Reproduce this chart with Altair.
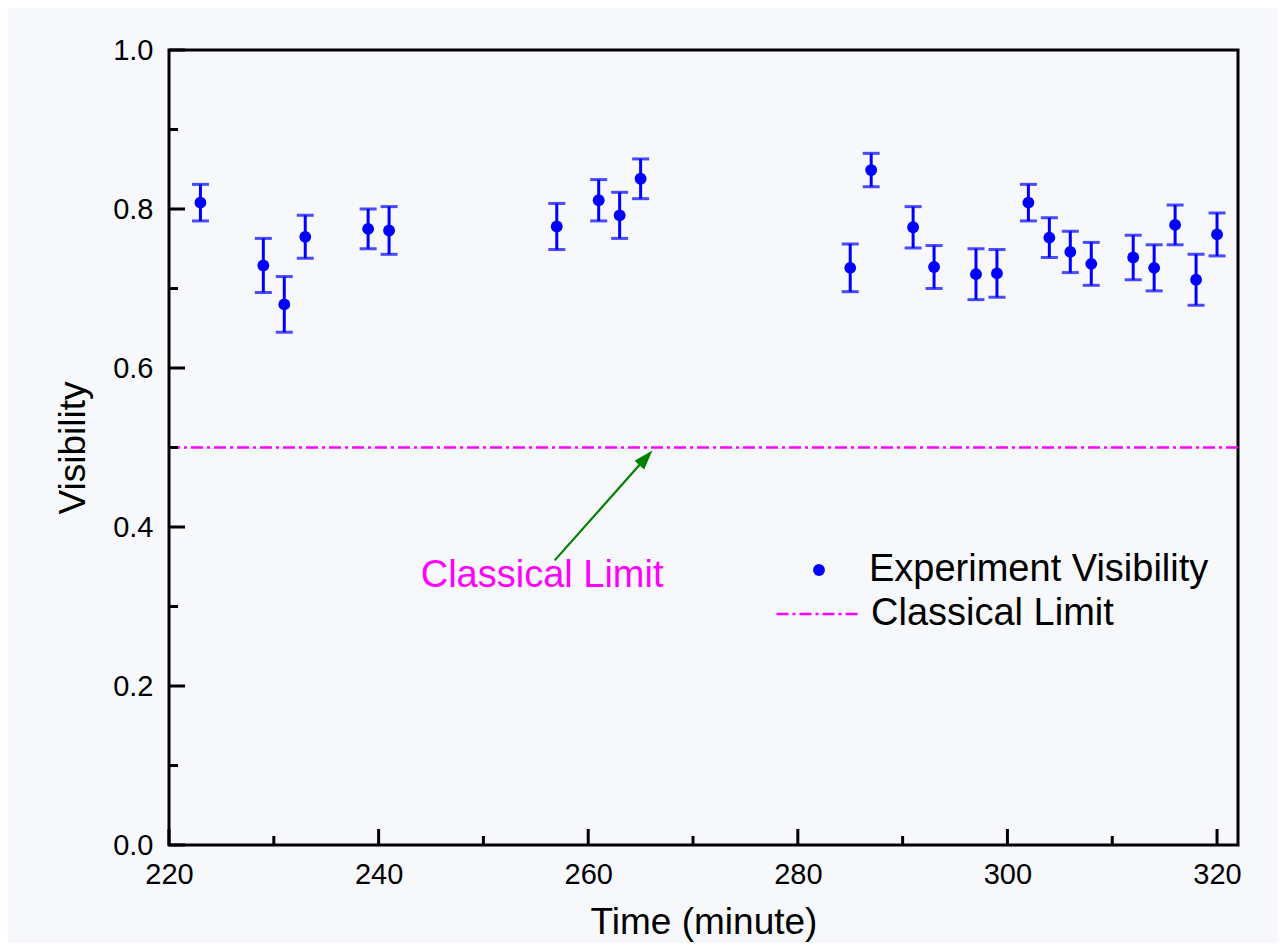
import altair as alt
import pandas as pd

# ---- data ----
time_min = [223, 229, 231, 233, 239, 241, 257, 261, 263, 265, 285, 287, 291,
            293, 297, 299, 302, 304, 306, 308, 312, 314, 316, 318, 320]
visibility = [0.808, 0.729, 0.680, 0.765, 0.775, 0.773, 0.778, 0.811, 0.792,
              0.838, 0.726, 0.849, 0.777, 0.727, 0.718, 0.719, 0.808, 0.764,
              0.746, 0.731, 0.739, 0.726, 0.780, 0.711, 0.768]
error = [0.023, 0.034, 0.035, 0.027, 0.025, 0.030, 0.029, 0.026, 0.029, 0.025,
         0.030, 0.021, 0.026, 0.027, 0.032, 0.030, 0.023, 0.025, 0.026, 0.027,
         0.028, 0.029, 0.025, 0.032, 0.027]
series_name = ["Experiment Visibility"]
limit_name = ["Classical Limit"]
limit_value = [0.5]

x_major = [220, 240, 260, 280, 300, 320]
x_minor = [230, 250, 270, 290, 310]
y_major = [0.0, 0.2, 0.4, 0.6, 0.8, 1.0]
y_minor = [0.1, 0.3, 0.5, 0.7, 0.9]

note_text = ["Classical Limit"]
note_x = [255.6]
note_y = [0.325]
arrow_x = [256.8, 265.5]
arrow_y = [0.358, 0.487]
head_x = [265.5]
head_y = [0.487]

FONT = "Liberation Sans"
BLUE = "#0000ff"
MAGENTA = "#ff00ff"
GREEN = "#008000"
W, H = 1069, 795

df = pd.DataFrame({"t": time_min, "v": visibility, "e": error})
df["lo"] = df["v"] - df["e"]
df["hi"] = df["v"] + df["e"]
df["series"] = series_name[0]

xs = alt.Scale(domain=[220, 322], nice=False, zero=False)
ys = alt.Scale(domain=[0, 1], nice=False, zero=False)
xaxis = alt.Axis(values=x_major, format="d", ticks=False, domain=False, grid=False,
                 labelFlush=False, labelPadding=15, title="Time (minute)",
                 titlePadding=15)
yaxis = alt.Axis(values=y_major, format=".1f", ticks=False, domain=False, grid=False,
                 labelFlush=False, labelPadding=16, title="Visibility",
                 titlePadding=20)


def X(field):
    return alt.X(field, type="quantitative", scale=xs, axis=xaxis)


def Y(field):
    return alt.Y(field, type="quantitative", scale=ys, axis=yaxis)


bars = alt.Chart(df).mark_rule(color=BLUE, strokeWidth=3).encode(
    x=X("t"), y=Y("lo"), y2="hi")
caps_hi = alt.Chart(df).mark_tick(color=BLUE, orient="horizontal", size=17,
                                   thickness=3).encode(x=X("t"), y=Y("hi"))
caps_lo = alt.Chart(df).mark_tick(color=BLUE, orient="horizontal", size=17,
                                   thickness=3).encode(x=X("t"), y=Y("lo"))
points = alt.Chart(df).mark_circle(size=140, opacity=1).encode(
    x=X("t"), y=Y("v"),
    color=alt.Color("series:N",
                    scale=alt.Scale(domain=series_name, range=[BLUE]),
                    legend=alt.Legend(title=None, orient="none", legendX=631,
                                      legendY=501, padding=0, symbolType="circle",
                                      symbolSize=140, labelOffset=31,
                                      labelFont=FONT, labelFontSize=38,
                                      labelColor="black", labelLimit=600)))

limit_df = pd.DataFrame({"v": limit_value, "name": limit_name})
limit = alt.Chart(limit_df).mark_rule(color=MAGENTA, strokeWidth=2.5).encode(
    y=Y("v"),
    strokeDash=alt.StrokeDash("name:N",
                              scale=alt.Scale(domain=limit_name, range=[[12, 4, 3, 4]]),
                              legend=alt.Legend(title=None, orient="none", legendX=606,
                                                legendY=521, padding=0,
                                                symbolType="stroke", symbolSize=6889,
                                                symbolStrokeColor=MAGENTA,
                                                symbolStrokeWidth=2.5,
                                                labelOffset=10, labelFont=FONT,
                                                labelFontSize=38, labelColor="black",
                                                labelLimit=600)))

# inward ticks
ym = alt.Chart(pd.DataFrame({"v": y_major})).mark_rule(color="black", strokeWidth=3).encode(
    y=Y("v"), x=alt.value(0), x2=alt.value(16))
yn = alt.Chart(pd.DataFrame({"v": y_minor})).mark_rule(color="black", strokeWidth=3).encode(
    y=Y("v"), x=alt.value(0), x2=alt.value(9))
xm = alt.Chart(pd.DataFrame({"t": x_major})).mark_rule(color="black", strokeWidth=3).encode(
    x=X("t"), y=alt.value(H), y2=alt.value(H - 16))
xn = alt.Chart(pd.DataFrame({"t": x_minor})).mark_rule(color="black", strokeWidth=3).encode(
    x=X("t"), y=alt.value(H), y2=alt.value(H - 9))

# annotation
note = alt.Chart(pd.DataFrame({"t": note_x, "v": note_y, "s": note_text})).mark_text(
    color=MAGENTA, font=FONT, fontSize=38, align="center", baseline="alphabetic").encode(
    x=X("t"), y=Y("v"), text="s:N")
arrow = alt.Chart(pd.DataFrame({"t": arrow_x, "v": arrow_y})).mark_line(
    color=GREEN, strokeWidth=2.2).encode(x=X("t"), y=Y("v"))
head = alt.Chart(pd.DataFrame({"t": head_x, "v": head_y})).mark_point(
    shape="M0,-1L0.66,1L-0.66,1Z", size=380, angle=42, filled=True, color=GREEN,
    opacity=1).encode(x=X("t"), y=Y("v"))

chart = alt.layer(limit, arrow, head, note, bars, caps_hi, caps_lo, points,
                  ym, yn, xm, xn).properties(
    width=W, height=H,
    padding={"left": 161, "top": 42, "right": 40, "bottom": 98},
    autosize=alt.AutoSizeParams(type="none"),
    background="#f7f8fc",
).configure_view(stroke="black", strokeWidth=3).configure_axis(
    labelFont=FONT, labelFontSize=29, labelColor="black",
    titleFont=FONT, titleFontSize=37, titleFontWeight="normal", titleColor="black",
)

chart.save("out.html", embed_options={"renderer": "svg", "actions": False})
